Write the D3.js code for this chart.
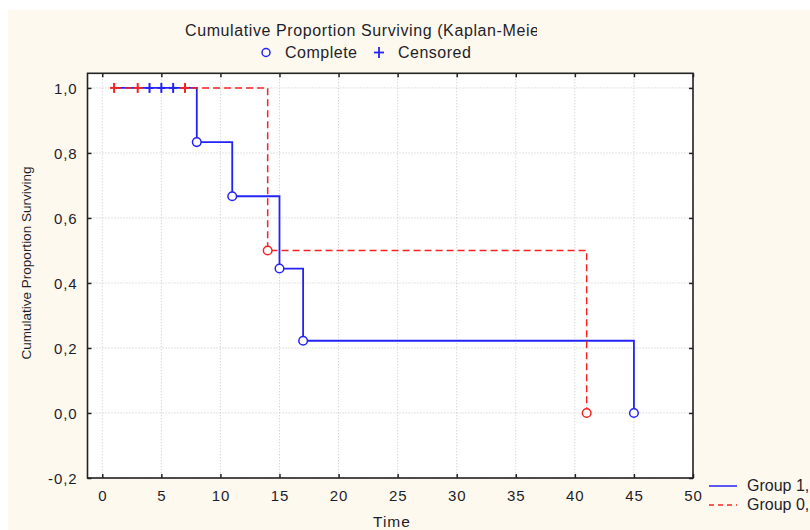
<!DOCTYPE html>
<html>
<head>
<meta charset="utf-8">
<script src="https://cdn.jsdelivr.net/npm/d3@7"></script>
<style>
  html, body { margin: 0; padding: 0; background: #ffffff; }
  svg { display: block; }
  text { font-family: "Liberation Sans", Arial, sans-serif; fill: #1e1e2a; }
</style>
</head>
<body>
<script>
// Kaplan-Meier survival estimates for two groups
const group1Times = [1, 8, 11, 15, 17, 45];
const group1Surv  = [1, 0.8333, 0.6667, 0.4444, 0.2222, 0];
const group1Censored = [4, 5, 6];

const group0Times = [1, 14, 41];
const group0Surv  = [1, 0.5, 0];
const group0Censored = [1, 3, 7];

const xTicks = [0, 5, 10, 15, 20, 25, 30, 35, 40, 45, 50];
const yTicks = [-0.2, 0, 0.2, 0.4, 0.6, 0.8, 1.0];
const groupNames = ["Group 1,", "Group 0,"];
const groupColors = ["#2323f5", "#f52323"];

const W = 810, H = 530;
const svg = d3.select("body").append("svg").attr("width", W).attr("height", H);

// page background
svg.append("rect").attr("x", 8).attr("y", 10).attr("width", W - 8).attr("height", H - 10)
  .attr("fill", "#fef9ee");

const x = d3.scaleLinear().domain([-1.25, 50]).range([87.5, 693]);
const y = d3.scaleLinear().domain([-0.2, 1.045]).range([478, 73.3]);
const [x0, x1] = x.range();
const [yb, yt] = y.range();

// plot area
svg.append("rect").attr("x", x0).attr("y", yt).attr("width", x1 - x0).attr("height", yb - yt)
  .attr("fill", "#ffffff");

// dotted grid
const grid = svg.append("g").attr("stroke", "#c4c4c4").attr("stroke-width", 1)
  .attr("stroke-dasharray", "1,2");
grid.selectAll("line.v").data(xTicks).join("line")
  .attr("x1", d => x(d)).attr("x2", d => x(d)).attr("y1", yt).attr("y2", yb);
grid.selectAll("line.h").data(yTicks).join("line")
  .attr("y1", d => y(d)).attr("y2", d => y(d)).attr("x1", x0).attr("x2", x1);

// axes with inward ticks on all four sides
const fmt = d => d3.format(".1f")(d).replace(".", ",").replace("−", "-");
const axB = svg.append("g").attr("transform", `translate(0,${yb})`)
  .call(d3.axisBottom(x).tickValues(xTicks).tickSizeInner(-4).tickSizeOuter(0).tickPadding(12));
const axT = svg.append("g").attr("transform", `translate(0,${yt})`)
  .call(d3.axisTop(x).tickValues(xTicks).tickSizeInner(-4).tickSizeOuter(0).tickFormat(""));
const axL = svg.append("g").attr("transform", `translate(${x0},0)`)
  .call(d3.axisLeft(y).tickValues(yTicks).tickSizeInner(-4).tickSizeOuter(0).tickPadding(10).tickFormat(fmt));
const axR = svg.append("g").attr("transform", `translate(${x1},0)`)
  .call(d3.axisRight(y).tickValues(yTicks).tickSizeInner(-4).tickSizeOuter(0).tickFormat(""));
[axB, axT, axL, axR].forEach(a => {
  a.select(".domain").remove();
  a.selectAll(".tick line").attr("stroke", "#222").attr("stroke-width", 1.5);
  a.selectAll("text").attr("font-size", 15).attr("fill", "#1e1e2a")
    .attr("letter-spacing", "0.9px")
    .attr("font-family", "'Liberation Sans', Arial, sans-serif");
});
axL.selectAll(".tick text").attr("dy", "0.36em");

// frame
svg.append("rect").attr("x", x0).attr("y", yt).attr("width", x1 - x0).attr("height", yb - yt)
  .attr("fill", "none").attr("stroke", "#222").attr("stroke-width", 1.6);

// survival step curves
const step = d3.line().x(d => x(d[0])).y(d => y(d[1])).curve(d3.curveStepAfter);
const g1 = group1Times.map((t, i) => [t, group1Surv[i]]);
const g0 = group0Times.map((t, i) => [t, group0Surv[i]]);

svg.append("path").datum(g1).attr("d", step).attr("fill", "none")
  .attr("stroke", groupColors[0]).attr("stroke-width", 1.8);
svg.append("path").datum(g0).attr("d", step).attr("fill", "none")
  .attr("stroke", groupColors[1]).attr("stroke-width", 1.5).attr("stroke-dasharray", "7,4");

// censored marks
function crosses(times, color, level) {
  const gg = svg.append("g").attr("stroke", color).attr("stroke-width", 2);
  times.forEach(t => {
    gg.append("line").attr("x1", x(t)).attr("x2", x(t)).attr("y1", y(level) - 5).attr("y2", y(level) + 5);
    gg.append("line").attr("x1", x(t) - 4).attr("x2", x(t) + 4).attr("y1", y(level)).attr("y2", y(level));
  });
}
crosses(group0Censored, groupColors[1], 1);
crosses(group1Censored, groupColors[0], 1);

// complete (event) marks
function events(pts, color) {
  svg.append("g").selectAll("circle").data(pts.slice(1)).join("circle")
    .attr("cx", d => x(d[0])).attr("cy", d => y(d[1])).attr("r", 4.3)
    .attr("fill", "#ffffff").attr("stroke", color).attr("stroke-width", 1.5);
}
events(g1, groupColors[0]);
events(g0, groupColors[1]);

// title (clipped on the right)
svg.append("clipPath").attr("id", "titleClip").append("rect")
  .attr("x", 0).attr("y", 0).attr("width", 537).attr("height", 45);
svg.append("text").attr("x", 185).attr("y", 36).attr("font-size", 16)
  .attr("letter-spacing", "0.6px")
  .attr("clip-path", "url(#titleClip)")
  .text("Cumulative Proportion Surviving (Kaplan-Meier)");

// marker legend
svg.append("circle").attr("cx", 266).attr("cy", 52.5).attr("r", 4)
  .attr("fill", "#fff").attr("stroke", "#2323f5").attr("stroke-width", 1.5);
svg.append("text").attr("x", 285).attr("y", 57.5).attr("font-size", 16)
  .attr("letter-spacing", "0.5px").text("Complete");
svg.append("line").attr("x1", 374).attr("x2", 384).attr("y1", 52.5).attr("y2", 52.5)
  .attr("stroke", "#2323f5").attr("stroke-width", 1.8);
svg.append("line").attr("x1", 379).attr("x2", 379).attr("y1", 47).attr("y2", 58)
  .attr("stroke", "#2323f5").attr("stroke-width", 1.8);
svg.append("text").attr("x", 398).attr("y", 57.5).attr("font-size", 16)
  .attr("letter-spacing", "0.5px").text("Censored");

// axis titles
svg.append("text").attr("x", 373).attr("y", 527)
  .attr("font-size", 15.5).attr("letter-spacing", "1px").text("Time");
svg.append("text").attr("transform", "translate(31,263) rotate(-90)")
  .attr("text-anchor", "middle").attr("font-size", 13.5)
  .text("Cumulative Proportion Surviving");

// group legend
const lg = svg.append("g");
groupNames.forEach((name, i) => {
  const ly = 486 + i * 19;
  lg.append("line").attr("x1", 709).attr("x2", 737).attr("y1", ly).attr("y2", ly)
    .attr("stroke", groupColors[i]).attr("stroke-width", i === 0 ? 1.5 : 1.3)
    .attr("stroke-dasharray", i === 0 ? null : "5,4");
  lg.append("text").attr("x", 747).attr("y", ly + 4.5).attr("font-size", 16)
    .text(name);
});
</script>
</body>
</html>
